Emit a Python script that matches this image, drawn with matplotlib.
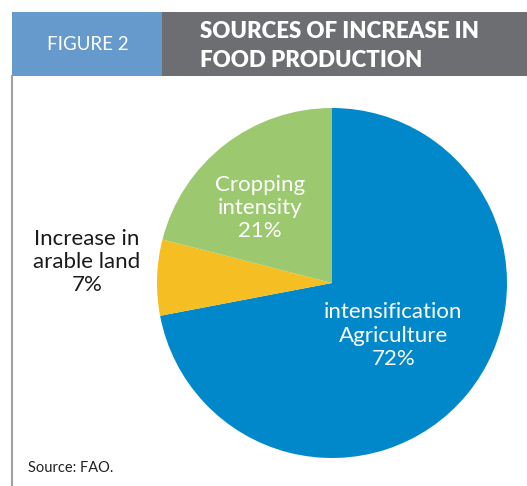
import matplotlib
matplotlib.use("Agg")
import matplotlib.pyplot as plt
from matplotlib.patches import Rectangle
from matplotlib.lines import Line2D

categories = ["intensification\nAgriculture", "Increase in\narable land", "Cropping\nintensity"]
values = [72, 7, 21]
colors = ["#0088CB", "#F5BF23", "#9CC96F"]

W, H = 527, 486
fig = plt.figure(figsize=(W / 100, H / 100), dpi=100)
fig.patch.set_facecolor("white")
font = "Lato"

def px(x, y):
    return x / W, 1 - y / H

# header
fig.patches.append(Rectangle(px(12, 76), 150 / W, 64 / H, transform=fig.transFigure,
                             facecolor="#6699CC", edgecolor="none"))
fig.patches.append(Rectangle(px(162, 76), (W - 162) / W, 64 / H, transform=fig.transFigure,
                             facecolor="#6D6E71", edgecolor="none"))
fig.lines.append(Line2D([12 / W, 12 / W], [0, 1 - 76 / H], transform=fig.transFigure,
                        color="#A0A0A0", linewidth=1.5))
fig.text(*px(88, 45), "FIGURE 2", color="white", fontsize=13.5, family=font,
         ha="center", va="center")
fig.text(*px(200, 46), "SOURCES OF INCREASE IN\nFOOD PRODUCTION", color="white",
         fontsize=16, fontweight="heavy", family=font, ha="left", va="center",
         linespacing=1.45)
fig.text(*px(28, 468), "Source: FAO.", color="#222222", fontsize=10.5, family=font,
         ha="left", va="center")

# pie
cx, cy, r = 332, 283, 175
ax = fig.add_axes([(cx - r) / W, (H - cy - r) / H, 2 * r / W, 2 * r / H])
ax.pie(values, colors=colors, startangle=90, counterclock=False,
       wedgeprops=dict(linewidth=0))
ax.set_xlim(-1, 1)
ax.set_ylim(-1, 1)
ax.set_aspect("equal")
ax.axis("off")

label_pos = [(0.35, -0.30), (-1.40, 0.12), (-0.41, 0.43)]
label_col = ["white", "#1A1A1A", "white"]
for cat, v, (lx, ly), c in zip(categories, values, label_pos, label_col):
    ax.text(lx, ly, f"{cat}\n{v}%", ha="center", va="center", color=c,
            fontsize=16, fontweight="normal", family=font, linespacing=1.2,
            clip_on=False)

fig.savefig("out.png", dpi=100)
